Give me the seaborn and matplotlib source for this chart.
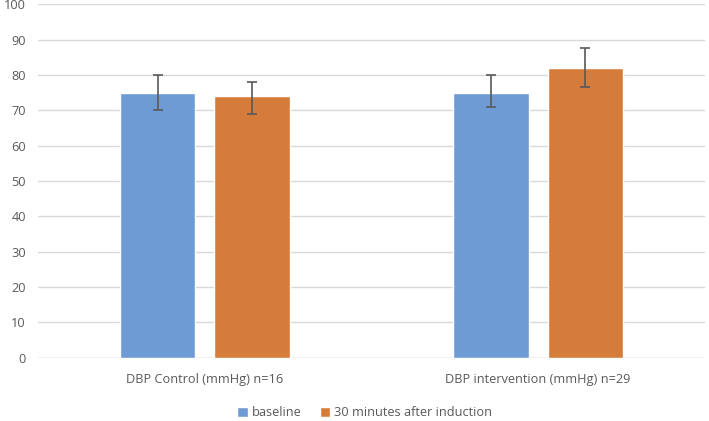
import numpy as np
import pandas as pd
import matplotlib
matplotlib.use("Agg")
import matplotlib.pyplot as plt
import seaborn as sns

# Data
groups = ["DBP Control (mmHg) n=16", "DBP intervention (mmHg) n=29"]
series = ["baseline", "30 minutes after induction"]
baseline = [75, 75]
after = [74, 82]
baseline_lo = [70, 71]
baseline_hi = [80, 80]
after_lo = [69, 76.5]
after_hi = [78, 87.5]
y_ticks = [0, 10, 20, 30, 40, 50, 60, 70, 80, 90, 100]

colors = ["#6F9BD4", "#D67C3B"]

df = pd.DataFrame({
    "group": groups * 2,
    "series": [series[0]] * 2 + [series[1]] * 2,
    "value": baseline + after,
})

sns.set_style("white")
plt.rcParams["font.family"] = ["Open Sans", "DejaVu Sans"]

fig = plt.figure(figsize=(7.09, 4.21), dpi=100)
ax = fig.add_axes([0.054, 0.15, 0.94, 0.84])

sns.barplot(data=df, x="group", y="value", hue="series", palette=colors,
            saturation=1, width=0.565, gap=0.2, errorbar=None, ax=ax, zorder=2)

# Error bars at bar centres
lows = baseline_lo + after_lo
highs = baseline_hi + after_hi
vals = baseline + after
centers = []
for cont in ax.containers:
    for p in cont:
        centers.append(p.get_x() + p.get_width() / 2)
vals_arr = np.array(vals)
yerr = np.array([vals_arr - np.array(lows), np.array(highs) - vals_arr])
ax.errorbar(centers, vals_arr, yerr=yerr, fmt="none", ecolor="#595959",
            elinewidth=1.2, capsize=3.5, capthick=1.2, zorder=3)

ax.set_ylim(0, 100)
ax.set_yticks(y_ticks)
ax.set_xlim(-0.5, 1.5)
ax.yaxis.grid(True, color="#D9D9D9", linewidth=1)
ax.set_axisbelow(True)
for s in ax.spines.values():
    s.set_visible(False)
ax.axhline(0, color="#D9D9D9", linewidth=1, zorder=1)
ax.tick_params(axis="y", length=0, labelsize=9.2, colors="#595959", pad=9)
ax.tick_params(axis="x", length=0, labelsize=9.2, colors="#595959", pad=11)
ax.set_xlabel("")
ax.set_ylabel("")

leg = ax.legend(loc="upper center", bbox_to_anchor=(0.49, -0.105), ncol=2,
                frameon=False, fontsize=9.2, handlelength=0.8, handleheight=0.8,
                handletextpad=0.35, columnspacing=1.4)
for t in leg.get_texts():
    t.set_color("#595959")

fig.savefig("out.png", dpi=100)
